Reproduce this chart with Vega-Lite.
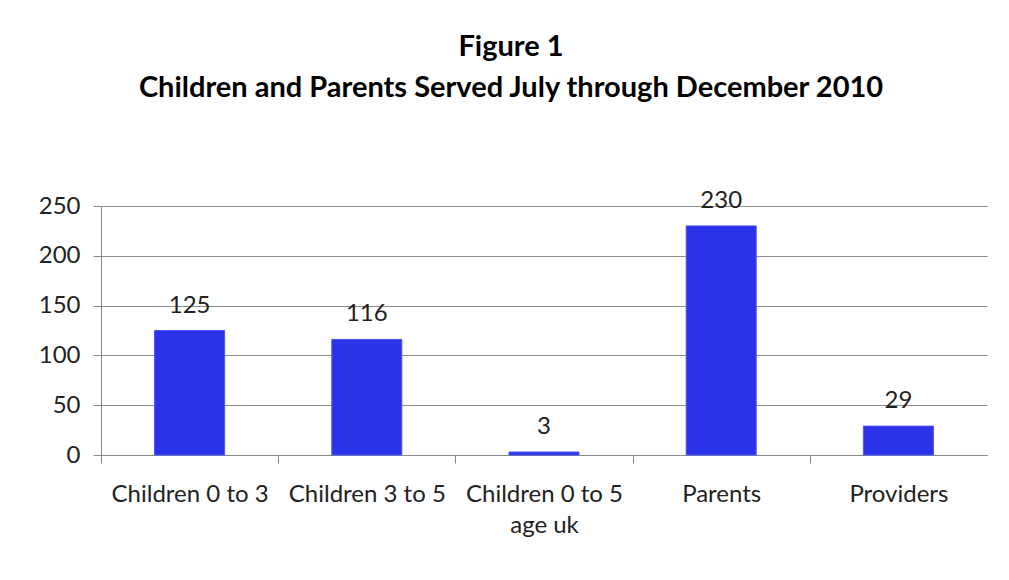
{
  "$schema": "https://vega.github.io/schema/vega-lite/v6.json",
  "width": 886,
  "height": 249,
  "autosize": {"type": "none"},
  "padding": {"left": 101, "top": 206, "right": 22, "bottom": 125},
  "background": "white",
  "title": {
    "text": ["Figure 1", "Children and Parents Served July through December 2010"],
    "font": "Lato",
    "fontSize": 29,
    "fontWeight": "bold",
    "color": "#000000",
    "anchor": "middle",
    "frame": "group",
    "dx": -33,
    "offset": 86,
    "lineHeight": 41
  },
  "data": {
    "values": [
      {"category": "Children 0 to 3", "value": 125},
      {"category": "Children 3 to 5", "value": 116},
      {"category": "Children 0 to 5 age uk", "value": 3},
      {"category": "Parents", "value": 230},
      {"category": "Providers", "value": 29}
    ]
  },
  "encoding": {
    "x": {
      "field": "category",
      "type": "nominal",
      "sort": null,
      "scale": {"paddingInner": 0.605, "paddingOuter": 0.3025},
      "axis": {
        "title": null,
        "labelAngle": 0,
        "labelFont": "Lato",
        "labelFontSize": 24,
        "labelColor": "#222222",
        "labelPadding": 19,
        "labelLineHeight": 31,
        "labelExpr": "datum.label == 'Children 0 to 5 age uk' ? ['Children 0 to 5', 'age uk'] : datum.label",
        "tickBand": "center",
        "tickOffset": -88.6,
        "labelOffset": 88.6,
        "tickSize": 8,
        "tickColor": "#888888",
        "domainColor": "#888888",
        "grid": false
      }
    },
    "y": {
      "field": "value",
      "type": "quantitative",
      "scale": {"domain": [0, 250], "nice": false},
      "axis": {
        "title": null,
        "values": [0, 50, 100, 150, 200, 250],
        "labelFont": "Lato",
        "labelFontSize": 24,
        "labelColor": "#222222",
        "labelPadding": 13,
        "tickSize": 8,
        "tickColor": "#888888",
        "domainColor": "#888888",
        "gridColor": "#8c8c8c",
        "gridWidth": 1
      }
    }
  },
  "layer": [
    {
      "mark": {"type": "bar", "color": "#2B32E8", "stroke": "#4a55f0", "strokeWidth": 1}
    },
    {
      "mark": {"type": "text", "baseline": "bottom", "dy": -13, "font": "Lato", "fontSize": 24, "color": "#222222"},
      "encoding": {"text": {"field": "value", "type": "quantitative"}}
    }
  ],
  "config": {
    "view": {"stroke": null}
  }
}
